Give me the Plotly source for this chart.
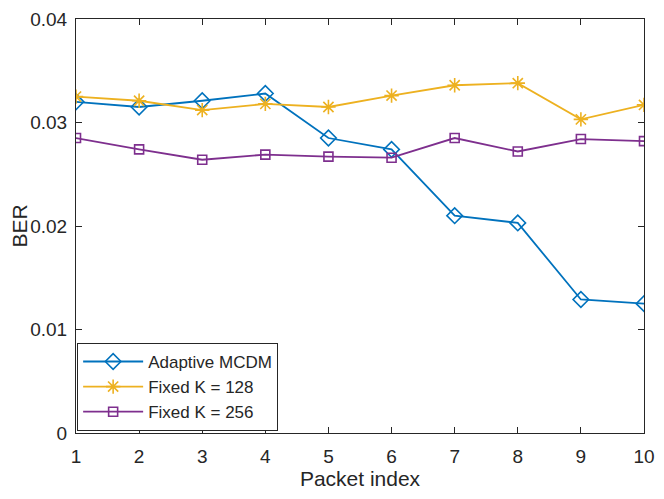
import plotly.graph_objects as go

packet_index = [1, 2, 3, 4, 5, 6, 7, 8, 9, 10]
ber_adaptive = [0.0320, 0.0315, 0.0321, 0.0328, 0.0285, 0.0274, 0.0210, 0.0203, 0.0129, 0.0125]
ber_k128 = [0.0325, 0.0321, 0.0312, 0.0318, 0.0315, 0.0326, 0.0336, 0.0338, 0.0303, 0.0317]
ber_k256 = [0.0285, 0.0274, 0.0264, 0.0269, 0.0267, 0.0266, 0.0285, 0.0272, 0.0284, 0.0282]

axis_col = '#262626'

fig = go.Figure()
fig.add_trace(go.Scatter(x=packet_index, y=ber_adaptive, mode='lines+markers',
                         name='Adaptive MCDM', line=dict(color='#0072BD', width=1.8),
                         marker=dict(symbol='diamond-open', size=12,
                                     line=dict(color='#0072BD', width=1.6))))
fig.add_trace(go.Scatter(x=packet_index, y=ber_k128, mode='lines+markers',
                         name='Fixed K = 128', line=dict(color='#EDB120', width=1.8),
                         marker=dict(symbol='asterisk-open', size=12,
                                     line=dict(color='#EDB120', width=1.6))))
fig.add_trace(go.Scatter(x=packet_index, y=ber_k256, mode='lines+markers',
                         name='Fixed K = 256', line=dict(color='#7E2F8E', width=1.8),
                         marker=dict(symbol='square-open', size=9,
                                     line=dict(color='#7E2F8E', width=1.6))))

fig.update_xaxes(range=[1, 10], tickvals=packet_index,
                 title=dict(text='Packet index', font=dict(size=21), standoff=4),
                 automargin=False, ticklabelstandoff=6,
                 showline=True, linecolor=axis_col, linewidth=1,
                 mirror='ticks', ticks='inside', ticklen=6, tickcolor=axis_col,
                 tickfont=dict(size=19), showgrid=False, zeroline=False)
fig.update_yaxes(range=[0, 0.04], tickvals=[0, 0.01, 0.02, 0.03, 0.04],
                 ticktext=['0', '0.01', '0.02', '0.03', '0.04'],
                 title=dict(text='BER', font=dict(size=21), standoff=2),
                 automargin=False, ticklabelstandoff=4,
                 showline=True, linecolor=axis_col, linewidth=1,
                 mirror='ticks', ticks='inside', ticklen=6, tickcolor=axis_col,
                 tickfont=dict(size=19), showgrid=False, zeroline=False)

fig.update_layout(
    width=664, height=499,
    margin=dict(l=68, r=28, t=11, b=74),
    plot_bgcolor='white', paper_bgcolor='white',
    font=dict(family='Liberation Sans, Arial, sans-serif', size=17, color=axis_col),
    legend=dict(x=0.002, y=0.005, xanchor='left', yanchor='bottom',
                bgcolor='white', bordercolor=axis_col, borderwidth=1,
                font=dict(size=17), itemwidth=60, tracegroupgap=0),
    showlegend=True,
)

fig.write_html("out.html")
